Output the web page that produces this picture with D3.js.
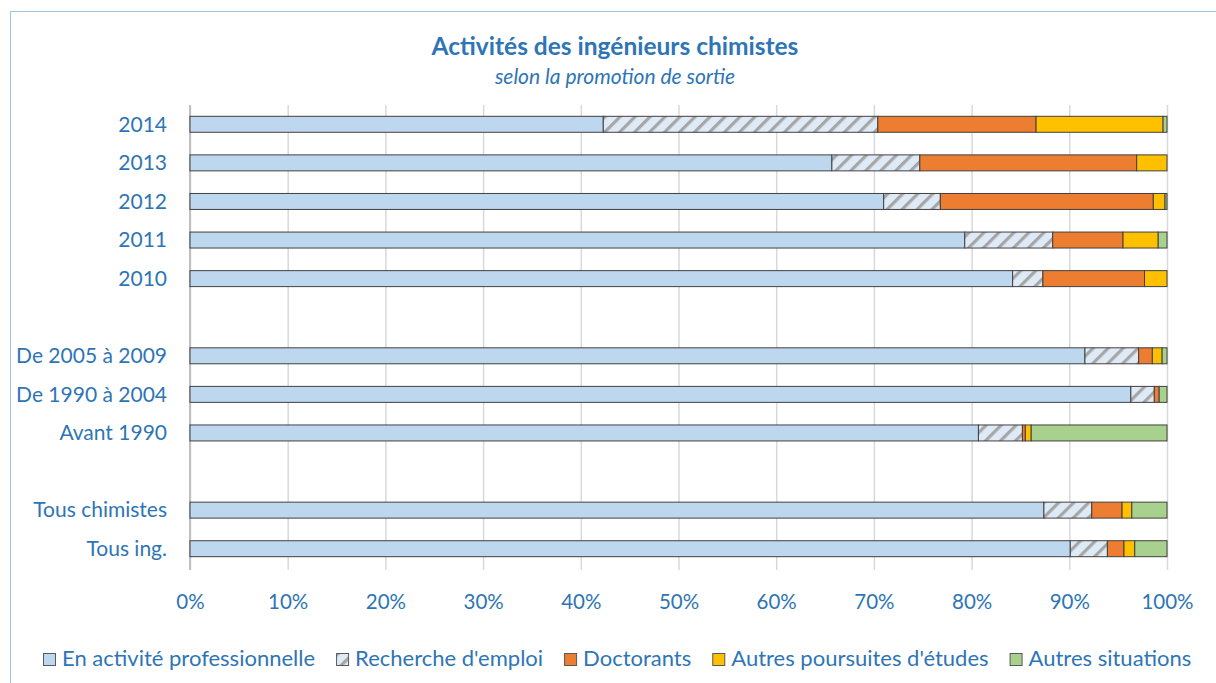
<!DOCTYPE html>
<html>
<head>
<meta charset="utf-8">
<script src="https://cdn.jsdelivr.net/npm/d3@7"></script>
<style>
  body { margin: 0; background: #fff; }
  text { font-family: Lato, "Open Sans", sans-serif; fill: #2E75B6; }
</style>
</head>
<body>
<div id="chart"></div>
<script>
// categories (blank entries are the gaps between groups)
var categories = ["2014", "2013", "2012", "2011", "2010", "gap1",
  "De 2005 à 2009", "De 1990 à 2004", "Avant 1990", "gap2",
  "Tous chimistes", "Tous ing."];

var series = ["En activité professionnelle", "Recherche d'emploi", "Doctorants",
  "Autres poursuites d'études", "Autres situations"];

// values in %, one per category (null for gaps)
var enActivite  = [42.3, 65.7, 71.0, 79.3, 84.2, null, 91.6, 96.3, 80.7, null, 87.4, 90.1];
var rechEmploi  = [28.1,  9.0,  5.8,  9.0,  3.1, null,  5.5,  2.4,  4.5, null,  4.9,  3.8];
var doctorants  = [16.2, 22.2, 21.8,  7.2, 10.4, null,  1.4,  0.5,  0.3, null,  3.1,  1.7];
var autresEtud  = [13.0,  3.1,  1.2,  3.6,  2.3, null,  1.0,  0.0,  0.6, null,  1.0,  1.1];
var autresSit   = [ 0.4,  0.0,  0.2,  0.9,  0.0, null,  0.5,  0.8, 13.9, null,  3.6,  3.3];

var xTicks = [0, 10, 20, 30, 40, 50, 60, 70, 80, 90, 100];

var colors = ["#BDD7EE", "url(#hatch)", "#ED7D31", "#FFC000", "#A9D18E"];

var W = 1216, H = 683;
var svg = d3.select("#chart").append("svg")
  .attr("width", W).attr("height", H);

// hatch pattern for "Recherche d'emploi"
var defs = svg.append("defs");
var pat = defs.append("pattern")
  .attr("id", "hatch")
  .attr("patternUnits", "userSpaceOnUse")
  .attr("width", 10.6).attr("height", 10.6)
  .attr("patternTransform", "rotate(45)");
pat.append("rect").attr("width", 10.6).attr("height", 10.6).attr("fill", "#DEEBF7");
pat.append("rect").attr("x", 0).attr("width", 3.2).attr("height", 10.6).attr("fill", "#A6A6A6");

// outer frame
svg.append("rect")
  .attr("x", 10.5).attr("y", 11.5)
  .attr("width", W).attr("height", H)
  .attr("fill", "none").attr("stroke", "#9DC3E6").attr("stroke-width", 1);

// title
svg.append("text")
  .attr("x", 615).attr("y", 55)
  .attr("text-anchor", "middle")
  .style("font-size", "24.5px").style("font-weight", "bold")
  .text("Activités des ingénieurs chimistes");
svg.append("text")
  .attr("x", 615).attr("y", 84)
  .attr("text-anchor", "middle")
  .style("font-size", "21px").style("font-style", "italic")
  .text("selon la promotion de sortie");

var x = d3.scaleLinear().domain([0, 100]).range([190, 1167]);
var y = d3.scaleBand().domain(categories).range([105, 568])
  .paddingInner(0.586).paddingOuter(0.293);

// gridlines
svg.append("g")
  .attr("transform", "translate(0,570)")
  .call(d3.axisBottom(x).tickValues(xTicks).tickSize(-465).tickFormat(function(d){ return d + "%"; }))
  .call(function(g){
    g.select(".domain").remove();
    g.selectAll(".tick line").attr("stroke", "#D9D9D9").attr("stroke-width", 1.5);
    g.selectAll(".tick text").attr("dy", null).attr("y", 39)
      .style("font-size", "20.5px").attr("fill", "#2E75B6");
  });

// left axis line
svg.append("line")
  .attr("x1", 190).attr("x2", 190).attr("y1", 105).attr("y2", 570)
  .attr("stroke", "#BFBFBF").attr("stroke-width", 2);

// category labels
svg.append("g").selectAll("text")
  .data(categories.filter(function(c){ return c.indexOf("gap") !== 0; }))
  .enter().append("text")
  .attr("x", 167)
  .attr("y", function(d){ return y(d) + y.bandwidth() / 2; })
  .attr("dy", "0.35em")
  .attr("text-anchor", "end")
  .style("font-size", "21px")
  .text(function(d){ return d; });

// stack data
var rows = categories.map(function(c, i){
  return { cat: c, s0: enActivite[i], s1: rechEmploi[i], s2: doctorants[i], s3: autresEtud[i], s4: autresSit[i] };
}).filter(function(r){ return r.s0 !== null; });

var stack = d3.stack().keys(["s0", "s1", "s2", "s3", "s4"]);
var layers = stack(rows);

svg.append("g").selectAll("g")
  .data(layers)
  .enter().append("g")
  .attr("fill", function(d, i){ return colors[i]; })
  .selectAll("rect")
  .data(function(d){ return d.filter(function(p){ return p[1] - p[0] > 0; }); })
  .enter().append("rect")
  .attr("x", function(d){ return x(d[0]); })
  .attr("y", function(d){ return y(d.data.cat); })
  .attr("width", function(d){ return x(d[1]) - x(d[0]); })
  .attr("height", y.bandwidth())
  .attr("stroke", "#404040")
  .attr("stroke-width", 1);

// legend
var legend = svg.append("g");
var lx = 43;
series.forEach(function(name, i){
  var item = legend.append("g");
  item.append("rect")
    .attr("x", lx + 0.5).attr("y", 653.5)
    .attr("width", 12).attr("height", 12)
    .attr("fill", colors[i]).attr("stroke", "#595959").attr("stroke-width", 1);
  var t = item.append("text")
    .attr("x", lx + 19).attr("y", 666)
    .style("font-size", "22px")
    .text(name);
  lx += 19 + t.node().getComputedTextLength() + 21;
});
</script>
</body>
</html>
